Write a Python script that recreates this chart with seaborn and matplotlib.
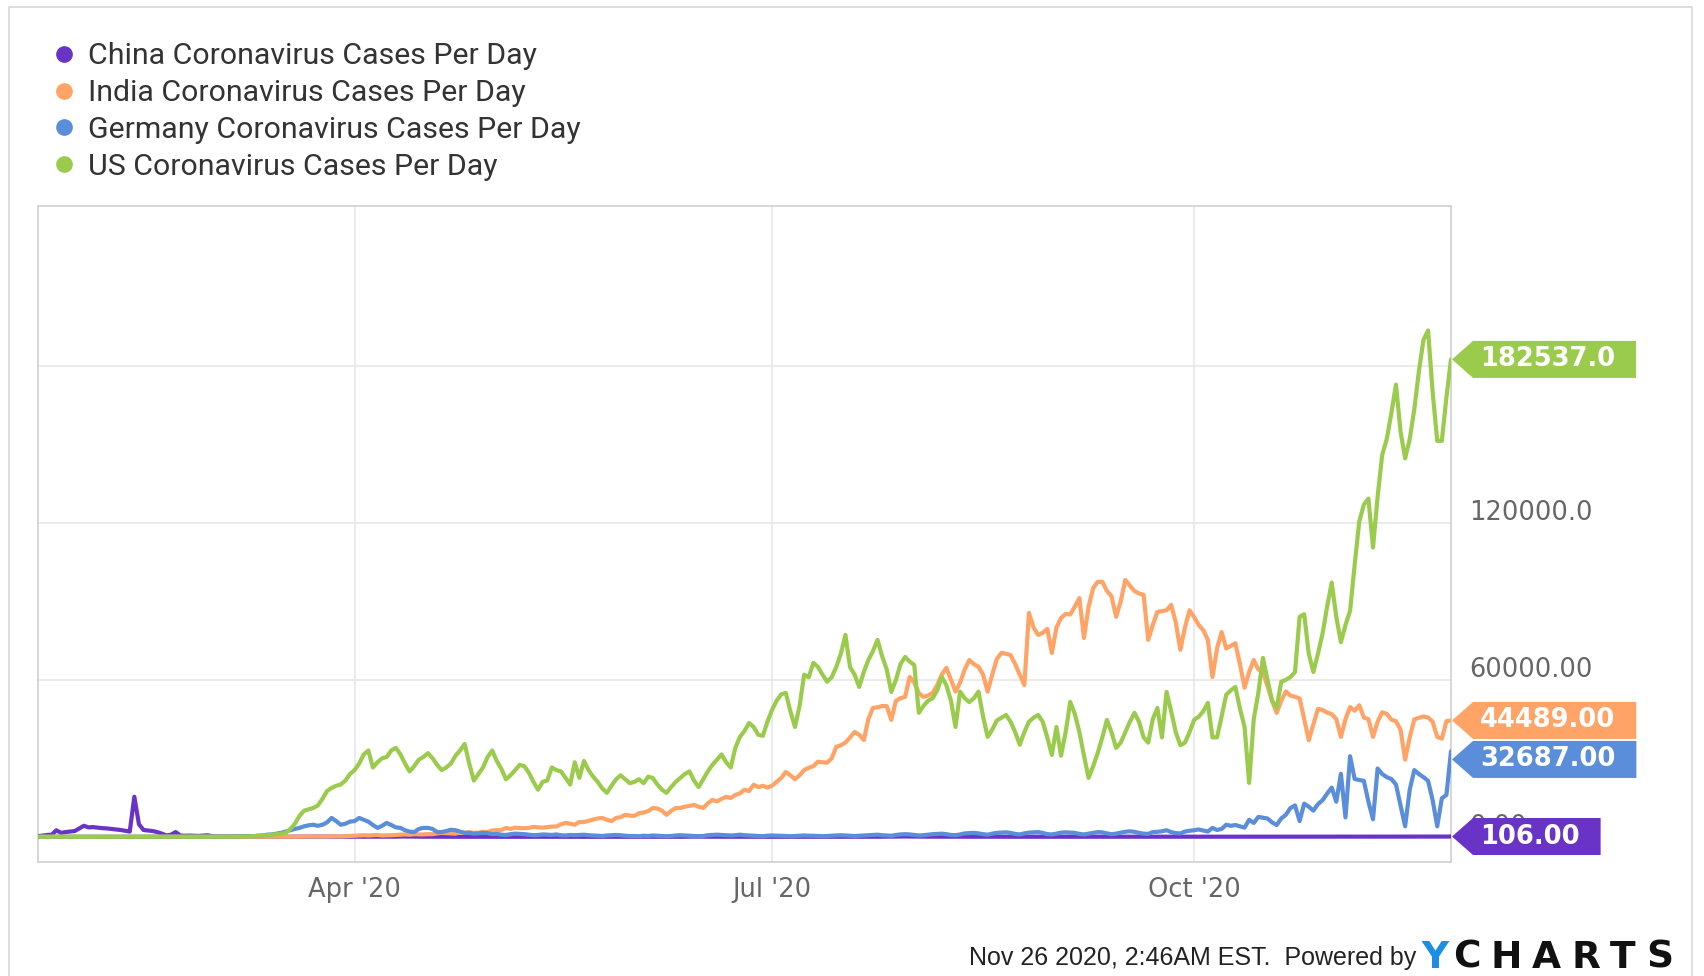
import pandas as pd
import seaborn as sns
import matplotlib.pyplot as plt
import matplotlib.transforms as mtransforms
from matplotlib.lines import Line2D
from matplotlib.patches import Polygon

W, H = 1704, 976

# daily values, Jan 23 .. Nov 26 2020, one inner list per month
month_names = ["Jan", "Feb", "Mar", "Apr", "May", "Jun", "Jul", "Aug", "Sep", "Oct", "Nov"]
month_days = [9, 29, 31, 30, 31, 30, 31, 31, 30, 31, 26]
dates = pd.date_range("2020-01-23", "2020-11-26", freq="D")

china = [
    [250, 450, 700, 800, 2500, 1500, 1800, 2000, 2200],
    [3200, 4200, 3600, 3700, 3500, 3300, 3200, 3000, 2800, 2600, 2300, 2000, 15300, 4800, 2600,
     2400, 2200, 1800, 1200, 500, 800, 1800, 500, 400, 450, 400, 330, 430, 570],
    [200, 130, 120, 140, 140, 100, 45, 40, 20, 25, 25, 15, 10, 20, 30, 25, 15, 40, 40, 50,
     45, 45, 80, 80, 65, 70, 50, 50, 35, 50, 35],
    [35, 35, 30, 50, 40, 35, 60, 60, 40, 45, 100, 100, 110, 90, 45, 30, 25, 25, 15, 15,
     10, 15, 10, 10, 5, 10, 5, 20, 10, 5],
    [5, 3, 2, 2, 1, 2, 4, 1, 14, 17, 7, 3, 3, 7, 5, 8, 7, 6, 2, 5, 2, 3, 3, 3, 11, 7, 2, 1, 4, 2, 16],
    [2, 4, 5, 7, 5, 6, 5, 3, 3, 3, 3, 11, 57, 49, 36, 40, 28, 25, 25, 21, 26, 18, 22, 19, 13,
     17, 19, 12, 19, 3],
    [3, 5, 4, 8, 8, 7, 7, 4, 6, 7, 8, 8, 5, 6, 3, 6, 6, 12, 17, 14, 23, 22, 20, 24, 46, 61, 68,
     64, 101, 127, 104],
    [84, 72, 70, 49, 38, 36, 33, 40, 45, 49, 37, 37, 24, 36, 34, 28, 26, 30, 27, 22, 30, 20, 21,
     18, 18, 21, 22, 12, 12, 15, 12],
    [20, 16, 14, 10, 20, 21, 16, 16, 26, 15, 21, 18, 14, 11, 14, 13, 15, 12, 15, 18, 12, 12, 6,
     10, 12, 22, 18, 18, 17, 19],
    [21, 21, 23, 17, 21, 13, 21, 19, 20, 16, 24, 26, 27, 20, 18, 20, 24, 19, 20, 20, 25, 28, 21,
     23, 26, 29, 43, 43, 44, 56, 48],
    [72, 64, 51, 59, 72, 69, 59, 58, 61, 51, 51, 52, 59, 37, 42, 48, 49, 51, 40, 42, 50, 52, 49,
     50, 80, 106],
]

india = [
    [0, 0, 0, 0, 0, 0, 0, 0, 1],
    [0, 0, 1, 0, 0, 0, 0, 0, 0, 0, 0, 0, 0, 0, 0, 0, 0, 0, 0, 0, 0, 0, 0, 0, 0, 0, 0, 0, 0],
    [0, 0, 3, 22, 2, 1, 3, 5, 9, 15, 8, 10, 10, 8, 10, 15, 14, 25, 25, 70, 90, 100, 80, 85, 90,
     75, 150, 170, 100, 230, 300],
    [400, 500, 600, 500, 600, 700, 500, 550, 600, 700, 800, 900, 800, 1000, 900, 900, 1000, 1000,
     1300, 1500, 1400, 1300, 1200, 1700, 1500, 1800, 1500, 1600, 1900, 1800],
    [2400, 2500, 2600, 3400, 3000, 3500, 3300, 3300, 3400, 3800, 3600, 3500, 3700, 3900, 3900,
     4800, 5300, 5000, 4600, 5700, 5600, 6100, 6600, 7000, 7200, 6500, 6000, 7200, 7500, 8400, 8100],
    [8000, 9000, 9300, 9800, 11000, 10800, 10000, 8400, 9900, 11000, 11000, 11500, 11800, 12200,
     11500, 11000, 12800, 14100, 13500, 14500, 15300, 14800, 16000, 16600, 18000, 17500, 19900,
     19000, 19500, 18800],
    [19500, 21000, 22500, 24800, 23500, 22000, 23500, 25500, 26400, 27000, 28700, 28500, 28300,
     30000, 34400, 35000, 36000, 38000, 40100, 39000, 37000, 45000, 49300, 49500, 50000, 50000,
     44700, 52000, 53000, 53500, 61100],
    [59000, 55000, 53500, 54000, 55000, 58000, 62000, 64600, 60000, 55500, 59000, 64000, 67600,
     66000, 65000, 62000, 55500, 62000, 68000, 70300, 70000, 69500, 66000, 62000, 58000, 85600,
     80000, 77200, 78000, 79500, 70300],
    [80000, 83700, 85200, 85000, 88000, 91300, 76000, 88000, 95100, 97500, 97500, 94000, 92000,
     84100, 90000, 98200, 96000, 94000, 93000, 92500, 75300, 81000, 86000, 86300, 86600, 88700,
     82000, 71500, 80000, 86600],
    [84000, 81000, 79000, 75300, 61100, 72000, 78300, 72000, 73000, 74000, 66000, 57000, 63000,
     67600, 64000, 63000, 57600, 52000, 47400, 52000, 55600, 54000, 53500, 52900, 45000, 36900,
     43000, 48900, 48500, 47500, 46900],
    [45000, 38200, 45000, 49600, 48200, 50300, 45600, 45000, 38200, 44000, 47600, 47000, 44800,
     44200, 41000, 29500, 38000, 44900, 45500, 46000, 45600, 44000, 38200, 37500, 44200, 44489],
]

germany = [
    [0, 0, 0, 0, 0, 1, 0, 0, 0],
    [0, 2, 0, 2, 1, 0, 2, 0, 0, 2, 1, 0, 0, 0, 0, 0, 0, 0, 0, 0, 0, 0, 0, 0, 2, 12, 18, 25, 60],
    [40, 20, 30, 60, 100, 150, 200, 250, 300, 200, 400, 500, 800, 900, 1200, 1500, 2000, 2500,
     3000, 3400, 4000, 4400, 4600, 4200, 4600, 5500, 7200, 6000, 4600, 5000, 5800],
    [6000, 7200, 6500, 5800, 4500, 3400, 4200, 5300, 4500, 3600, 3400, 2500, 2000, 1800, 3000,
     3400, 3400, 3000, 1800, 1800, 2200, 2700, 2500, 2000, 1500, 1500, 1200, 1300, 1500, 1400],
    [1000, 1100, 800, 700, 1000, 1200, 1100, 1000, 800, 600, 700, 900, 800, 700, 900, 600, 500,
     700, 600, 700, 800, 600, 500, 400, 300, 500, 600, 700, 600, 400, 300],
    [300, 200, 400, 300, 500, 400, 300, 200, 300, 500, 600, 500, 400, 300, 200, 300, 600, 700,
     800, 700, 600, 500, 600, 800, 600, 500, 400, 300, 200, 400],
    [500, 400, 400, 300, 200, 300, 400, 500, 400, 400, 300, 200, 300, 400, 500, 600, 500, 400,
     300, 400, 500, 600, 700, 800, 600, 500, 400, 700, 900, 1000, 900],
    [700, 500, 600, 800, 1000, 1100, 1200, 1000, 700, 600, 900, 1300, 1400, 1500, 1300, 1000,
     800, 1200, 1500, 1600, 1700, 1500, 1100, 900, 1300, 1600, 1700, 1800, 1500, 1000, 900],
    [1200, 1600, 1700, 1600, 1500, 1100, 900, 1200, 1500, 1800, 1700, 1300, 1000, 1200, 1600,
     1900, 2100, 1900, 1500, 1200, 1100, 1800, 1900, 2100, 2500, 1800, 1400, 1300, 2000, 2300],
    [2500, 2800, 2400, 2000, 3400, 2600, 3000, 4600, 4200, 4500, 4000, 3500, 6500, 5300, 7600,
     7300, 7000, 5500, 4500, 7000, 8400, 11000, 12000, 6000, 12700, 11500, 10000, 12500, 14000,
     16500, 18800],
    [13400, 24100, 7400, 30800, 22100, 21700, 21400, 13400, 6700, 26100, 24000, 22800, 22100,
     20000, 12000, 4000, 18000, 25500, 24000, 22800, 21400, 14000, 4000, 14700, 16000, 32687],
]

us = [
    [0, 0, 0, 1, 0, 0, 0, 0, 1],
    [0, 1, 0, 0, 0, 0, 0, 0, 0, 1, 0, 0, 1, 0, 0, 0, 0, 0, 0, 0, 1, 0, 0, 0, 5, 3, 5, 8, 10],
    [20, 15, 30, 40, 60, 80, 100, 130, 160, 250, 400, 500, 600, 800, 1000, 1200, 1500, 3000,
     5000, 8000, 10000, 10500, 11000, 12000, 14500, 17500, 18700, 19500, 20000, 21500, 24000],
    [25500, 28000, 31500, 33000, 26500, 28500, 30000, 30500, 33000, 34000, 31500, 28000, 25000,
     27000, 29500, 30500, 32000, 30000, 27500, 25500, 26500, 28000, 31000, 33000, 35500, 28000,
     21500, 24000, 26500, 30500],
    [33000, 29000, 26000, 22000, 23500, 25500, 27500, 27000, 24500, 21000, 18000, 21000, 21500,
     26500, 25500, 25000, 22500, 20000, 28500, 22500, 29000, 25500, 23000, 21000, 18500, 16800,
     19500, 22000, 23500, 22000, 20500],
    [21000, 22000, 20500, 23000, 22500, 20000, 18000, 16800, 19000, 21000, 22500, 24000, 25000,
     21500, 19000, 22000, 25000, 27500, 29500, 31500, 28500, 26500, 34000, 38200, 40500, 43500,
     42000, 39000, 38600, 44000],
    [48500, 52000, 54500, 55000, 48000, 42000, 50000, 62000, 61000, 66500, 65000, 62000, 59300,
     61000, 64900, 70000, 77200, 64900, 62000, 57300, 63000, 67600, 71000, 75300, 69000, 64000,
     55400, 60000, 66000, 68800, 67000],
    [65700, 47400, 50000, 52000, 53000, 56000, 61100, 58000, 52000, 42000, 55500, 53000, 51500,
     53000, 55500, 46000, 38200, 41000, 44500, 45500, 46600, 44000, 40000, 35200, 40000, 44000,
     45500, 46600, 44000, 38000, 31300],
    [42000, 31000, 40000, 51600, 47000, 40000, 31000, 22500, 27000, 32100, 38000, 44700, 40000,
     34000, 36000, 40000, 44000, 47400, 44000, 38000, 36000, 45000, 49300, 38000, 55400, 48000,
     40000, 35000, 36000, 40000],
    [44700, 45900, 48000, 51200, 38000, 38000, 46000, 54300, 56000, 57300, 49000, 42000, 20600,
     45000, 55000, 68400, 60000, 52000, 49300, 59300, 60000, 61100, 63000, 84100, 85100, 70000,
     63000, 70000, 77700, 88000, 97200],
    [84000, 74400, 81000, 86400, 104000, 120600, 127000, 129300, 110600, 130000, 146000, 152100,
     162000, 172900, 155000, 144700, 152000, 163500, 178000, 190000, 193600, 170000, 151400,
     151400, 168000, 182537],
]

labels = ["China Coronavirus Cases Per Day", "India Coronavirus Cases Per Day",
          "Germany Coronavirus Cases Per Day", "US Coronavirus Cases Per Day"]
colors = ["#6a33c8", "#ffa366", "#5a8dda", "#9bcb4d"]
tag_texts = ["106.00", "44489.00", "32687.00", "182537.0"]

ytick_values = [0, 60000, 120000, 180000]
ytick_labels = ["0.00", "60000.00", "120000.0", "180000.0"]
xtick_dates = ["2020-04-01", "2020-07-01", "2020-10-01"]
xtick_labels = ["Apr '20", "Jul '20", "Oct '20"]


def join_months(name, chunks):
    for m, n, c in zip(month_names, month_days, chunks):
        assert len(c) == n, f"{name} {m}: {len(c)} values, expected {n}"
    return [v for c in chunks for v in c]


series = [join_months("china", china), join_months("india", india),
          join_months("germany", germany), join_months("us", us)]

sns.set_style("white")
plt.rcParams["font.family"] = ["DejaVu Sans"]

fig = plt.figure(figsize=(W / 100, H / 100), dpi=100)
fig.patch.set_facecolor("white")
ax = fig.add_axes([38 / W, 1 - 862 / H, (1451 - 38) / W, (862 - 206) / H])

for i, vals in enumerate(series):
    sns.lineplot(x=dates, y=vals, color=colors[i], lw=3.0, ax=ax, zorder=3 + i, legend=False)

ax.set_xlim(dates[0], dates[-1])
ax.set_ylim(-9640, 241200)
ax.set_xlabel("")
ax.set_ylabel("")

ax.set_xticks(pd.to_datetime(xtick_dates))
ax.set_xticklabels(xtick_labels)
ax.tick_params(axis="x", length=0, pad=11, labelsize=18.5, labelcolor="#666666")
ax.yaxis.tick_right()
ax.set_yticks(ytick_values)
ax.set_yticklabels(ytick_labels)
ax.tick_params(axis="y", length=0, pad=13, labelsize=18.5, labelcolor="#666666")
shift_down = mtransforms.ScaledTranslation(0, -3 / 100, fig.dpi_scale_trans)
for lab in ax.get_yticklabels():
    lab.set_verticalalignment("bottom")
    lab.set_transform(lab.get_transform() + shift_down)
ax.grid(True, color="#e6e6e6", lw=1.1)
for s in ax.spines.values():
    s.set_color("#cccccc")
    s.set_linewidth(1.1)

# legend
handles = [Line2D([], [], marker="o", ls="none", markersize=11, color=c) for c in colors]
fig.legend(handles, labels, loc="upper left", bbox_to_anchor=(51.8 / W, 1 - 42.5 / H),
           frameon=False, prop={"family": ["Roboto", "DejaVu Sans"], "size": 21.8},
           labelcolor="#333333", handlelength=0.8, handletextpad=0.4, labelspacing=0.29,
           borderpad=0, borderaxespad=0)

# last-value tags on the right
fig.canvas.draw()
renderer = fig.canvas.get_renderer()
x_tip = ax.get_window_extent().x1 + 1
tag_h = 37
centers = [ax.transData.transform((ax.get_xlim()[0], vals[-1]))[1] for vals in series]
order = sorted(range(len(series)), key=lambda i: -centers[i])
prev = None
for i in order:
    if prev is not None and centers[i] > prev - tag_h - 2:
        centers[i] = prev - tag_h - 2
    prev = centers[i]

for i in range(len(series)):
    yc = centers[i]
    t = fig.text((x_tip + 28) / W, yc / H, tag_texts[i], color="white", fontsize=18.5,
                 fontweight="bold", ha="left", va="center", zorder=6)
    tw = t.get_window_extent(renderer).width
    x_right = x_tip + 28 + tw + 21
    pts = [(x_tip, yc), (x_tip + 21, yc + tag_h / 2), (x_right, yc + tag_h / 2),
           (x_right, yc - tag_h / 2), (x_tip + 21, yc - tag_h / 2)]
    fig.add_artist(Polygon([(px / W, py / H) for px, py in pts], closed=True,
                           facecolor=colors[i], edgecolor="none", zorder=5,
                           transform=fig.transFigure))

# footer
fig.text(1416 / W, 1 - 965 / H, "Nov 26 2020, 2:46AM EST.  Powered by", ha="right",
         va="baseline", fontsize=18, family=["Liberation Sans", "DejaVu Sans"], color="#222222")
fig.text(1421 / W, 1 - 968 / H, "Y", ha="left", va="baseline", fontsize=27,
         fontweight="bold", color="#1a8fe3")
logo = "CHARTS"
parts = [fig.text(0, 0, ch, fontsize=27, fontweight="bold", color="#111111") for ch in logo]
widths = [p.get_window_extent(renderer).width for p in parts]
gap = (1673 - 1453 - sum(widths)) / (len(logo) - 1)
xpos = 1453
for p, w in zip(parts, widths):
    p.set_position((xpos / W, 1 - 968 / H))
    p.set_va("baseline")
    xpos += w + gap

# outer frame
fig.add_artist(Line2D([8.5 / W, 8.5 / W, 1692 / W, 1692 / W], [0, 1 - 7 / H, 1 - 7 / H, 0],
                      color="#d4d4d4", lw=1.1, transform=fig.transFigure))

fig.savefig("out.png", dpi=100)
